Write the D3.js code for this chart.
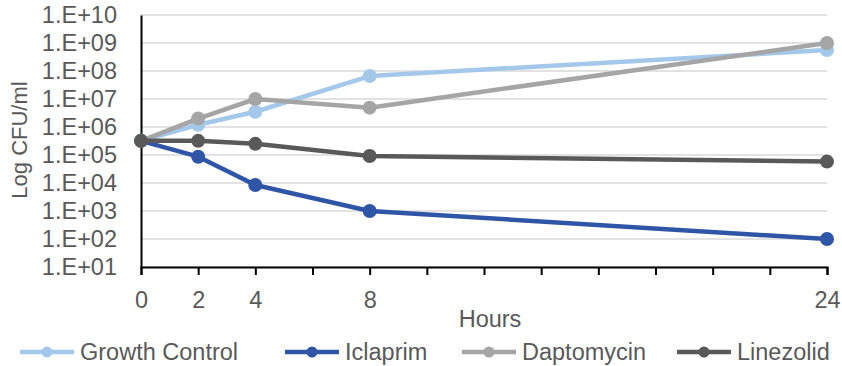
<!DOCTYPE html>
<html>
<head>
<meta charset="utf-8">
<script src="https://cdn.jsdelivr.net/npm/d3@7"></script>
<style>
  body { margin: 0; background: #fff; }
  text { font-family: "Liberation Sans", Arial, sans-serif; fill: #595959; }
</style>
</head>
<body>
<svg id="chart" width="842" height="366"></svg>
<script>
const hours = [0, 2, 4, 8, 24];
const hourLabels = [0, 2, 4, 8, 24];
const growthControl = [3.2e5, 1.2e6, 3.5e6, 6.6e7, 5.6e8];
const iclaprim = [3.2e5, 8.7e4, 8.5e3, 1.0e3, 1.0e2];
const daptomycin = [3.2e5, 2.0e6, 1.0e7, 4.9e6, 1.0e9];
const linezolid = [3.2e5, 3.2e5, 2.5e5, 9.2e4, 5.8e4];
const seriesNames = ["Growth Control", "Iclaprim", "Daptomycin", "Linezolid"];
const colors = ["#A4C8EA", "#2F55A7", "#A5A5A5", "#595959"];
const yTicks = d3.range(1, 11).map(e => Math.pow(10, e));

const series = [growthControl, iclaprim, daptomycin, linezolid].map((vals, i) => ({
  name: seriesNames[i],
  color: colors[i],
  points: vals.map((v, j) => ({ x: hours[j], y: v }))
}));

const svg = d3.select("#chart");
const plotLeft = 141, plotRight = 827, plotTop = 15, plotBottom = 267;
const fontSize = "23.5px";

const x = d3.scaleLinear().domain([0, 24]).range([plotLeft, plotRight]);
const y = d3.scaleLog().domain([10, 1e10]).range([plotBottom, plotTop]);

// gridlines
svg.append("g")
  .selectAll("line")
  .data(yTicks)
  .join("line")
  .attr("x1", plotLeft).attr("x2", plotRight)
  .attr("y1", d => y(d)).attr("y2", d => y(d))
  .attr("stroke", "#D9D9D9").attr("stroke-width", 1.3);

// y axis
const yAxis = svg.append("g")
  .attr("transform", `translate(${plotLeft},0)`)
  .call(d3.axisLeft(y).tickValues(yTicks).tickSize(0).tickPadding(24)
    .tickFormat(d => "1.E+" + String(Math.round(Math.log10(d))).padStart(2, "0")));
yAxis.select(".domain").attr("stroke", "#000").attr("stroke-width", 2);
yAxis.selectAll("text").style("font-size", fontSize).attr("fill", "#595959");

// x axis
const xAxis = svg.append("g")
  .attr("transform", `translate(0,${plotBottom})`)
  .call(d3.axisBottom(x).tickValues(d3.range(0, 25, 2)).tickSize(8).tickPadding(16)
    .tickFormat(d => hourLabels.includes(d) ? d : ""));
xAxis.select(".domain").attr("stroke", "#000").attr("stroke-width", 2);
xAxis.selectAll(".tick line").attr("stroke", "#000").attr("stroke-width", 2);
xAxis.selectAll("text").style("font-size", fontSize).attr("fill", "#595959");

// axis titles
svg.append("text")
  .attr("x", 490).attr("y", 327)
  .attr("text-anchor", "middle")
  .style("font-size", fontSize)
  .text("Hours");

svg.append("text")
  .attr("transform", "translate(27,140) rotate(-90)")
  .attr("text-anchor", "middle")
  .style("font-size", "22px")
  .text("Log CFU/ml");

// lines
const line = d3.line().x(d => x(d.x)).y(d => y(d.y));
const groups = svg.append("g").selectAll("g")
  .data(series)
  .join("g");

groups.append("path")
  .attr("d", d => line(d.points))
  .attr("fill", "none")
  .attr("stroke", d => d.color)
  .attr("stroke-width", 4.5)
  .attr("stroke-linejoin", "round");

groups.selectAll("circle")
  .data(d => d.points.map(p => ({ ...p, color: d.color })))
  .join("circle")
  .attr("cx", d => x(d.x))
  .attr("cy", d => y(d.y))
  .attr("r", 7)
  .attr("fill", d => d.color);

// legend
const legendX = [20, 285, 462, 677];
const legend = svg.append("g").selectAll("g")
  .data(series)
  .join("g")
  .attr("transform", (d, i) => `translate(${legendX[i]},352)`);

legend.append("line")
  .attr("x1", 0).attr("x2", 54)
  .attr("stroke", d => d.color).attr("stroke-width", 4.5);
legend.append("circle")
  .attr("cx", 27).attr("r", 5.5)
  .attr("fill", d => d.color);
legend.append("text")
  .attr("x", 60).attr("dy", "0.35em")
  .style("font-size", fontSize)
  .text(d => d.name);
</script>
</body>
</html>
